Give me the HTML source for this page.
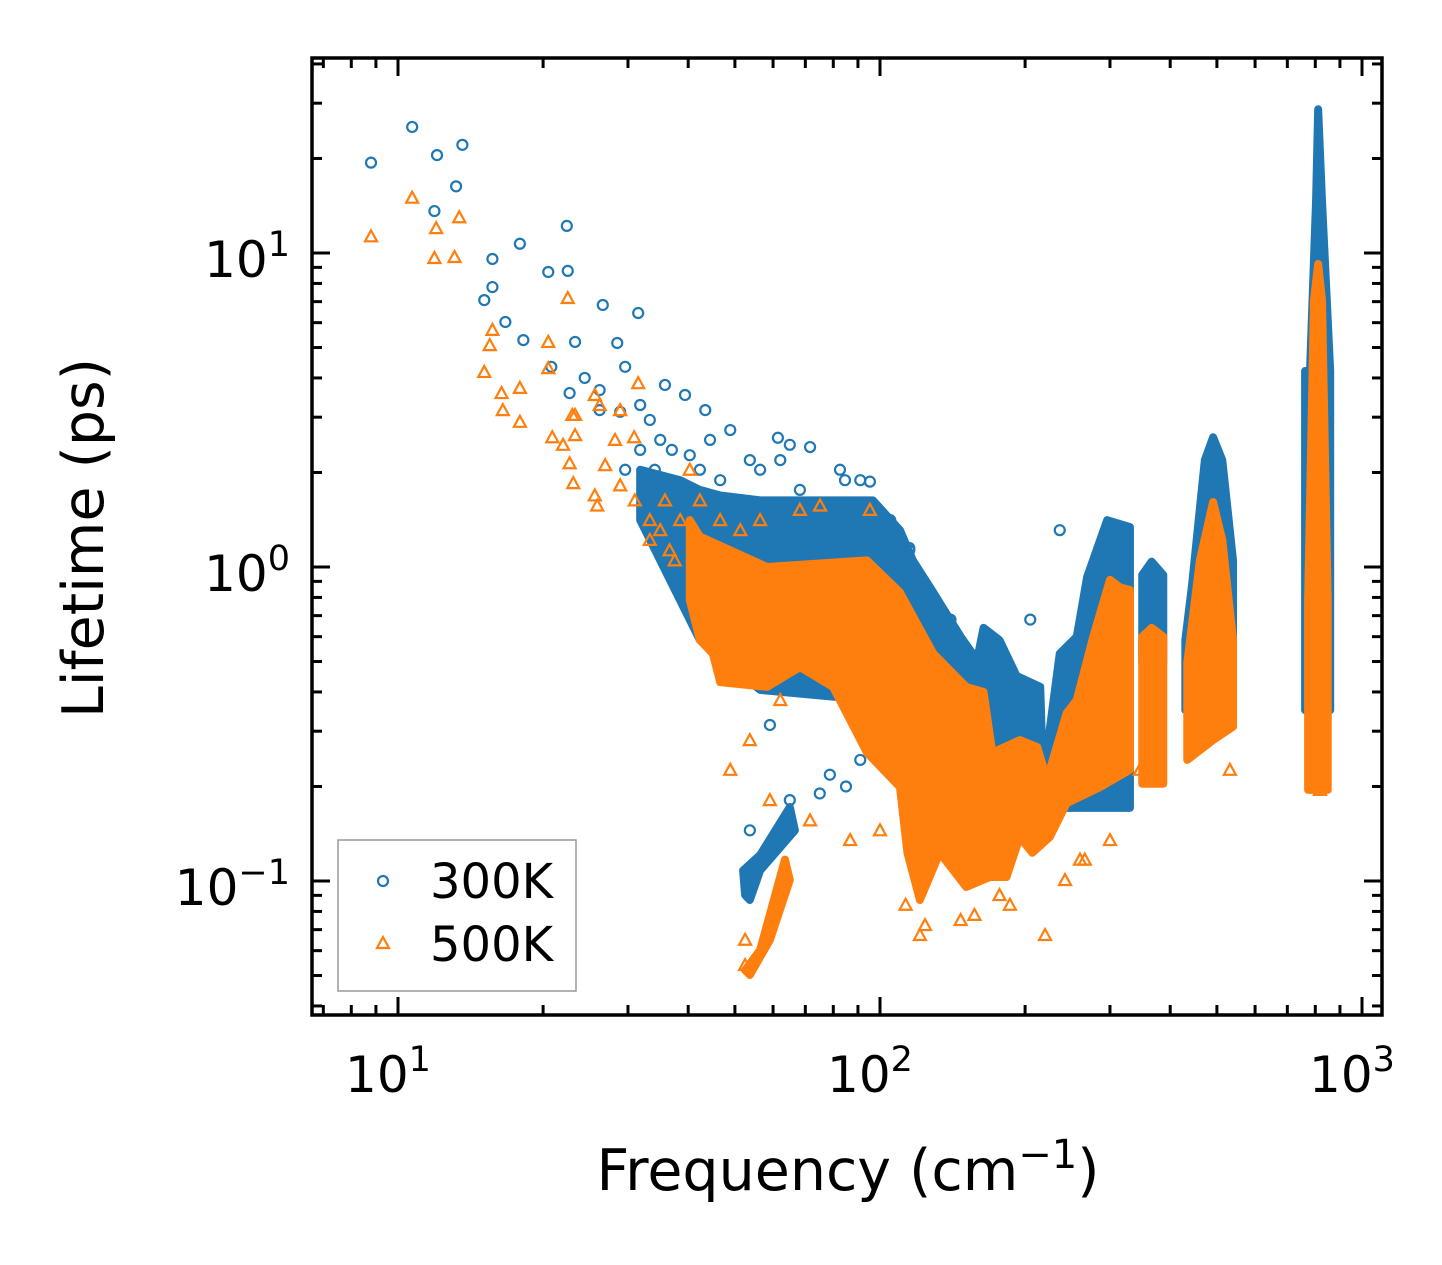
<!DOCTYPE html>
<html><head><meta charset="utf-8">
<style>
html,body{margin:0;padding:0;background:#fff;}
svg{display:block;font-family:"DejaVu Sans","Liberation Sans",sans-serif;}
</style></head>
<body>
<svg id="chart" width="1442" height="1265" viewBox="0 0 1442 1265" xmlns="http://www.w3.org/2000/svg">
<rect width="1442" height="1265" fill="#fff"/>
<defs><clipPath id="clip"><rect x="312" y="58" width="1070" height="957"/></clipPath></defs>
<g id="clouds" clip-path="url(#clip)"></g>
<g id="axes"></g>
<text x="848" y="1190" font-size="57" text-anchor="middle">Frequency (cm<tspan dy="-22" font-size="40">−1</tspan><tspan dy="22">)</tspan></text>
<text transform="translate(103,538) rotate(-90)" font-size="57" text-anchor="middle">Lifetime (ps)</text>
<g>
<rect x="338" y="840" width="238" height="151" fill="#fff" stroke="#999" stroke-width="1.5"/>
<circle cx="383" cy="881" r="5" fill="none" stroke="#1f77b4" stroke-width="2.2"/>
<text x="430" y="898" font-size="48">300K</text>
<polygon points="383,937 389,948 377,948" fill="none" stroke="#ff7f0e" stroke-width="2.2"/>
<text x="430" y="961" font-size="48">500K</text>
</g>
</svg>
<script>
// axis data
const xTickExps = [1, 2, 3];
const yTickExps = [-1, 0, 1];

// dense cloud envelopes [frequency, lifetime]
const blueClouds = [
 [[31.8,2.04],[38.5,1.89],[42.3,1.76],[46.6,1.69],[56.4,1.63],[96.7,1.63],[110,1.31],[117,1.05],[129,0.83],[147,0.60],[159,0.506],[164,0.64],[177,0.585],[192,0.45],[215,0.415],[218,0.21],[236,0.53],[256,0.60],[269,0.93],[296,1.41],[330,1.34],[330,0.171],[218,0.171],[169,0.195],[110,0.243],[95.3,0.377],[56.4,0.406],[42.3,0.585],[31.8,1.41]],
 [[350,0.944],[366,1.04],[387,0.944],[387,0.495],[350,0.495]],
 [[430,0.585],[444,0.876],[472,2.19],[491,2.59],[513,2.19],[540,1.05],[540,0.35],[430,0.35]],
 [[780,4.21],[803,14.7],[811,28.7],[826,14.7],[859,4.21],[859,0.35],[762,0.35],[762,4.21]],
 [[52.5,0.0902],[52.0,0.108],[56.4,0.121],[65.0,0.172],[66.6,0.145],[56.4,0.108],[53.7,0.087]]
];
const orangeClouds = [
 [[40.3,1.41],[42.3,1.25],[58.3,1.0],[94.0,1.05],[110,0.83],[129,0.53],[151,0.415],[164,0.40],[171,0.256],[195,0.281],[212,0.267],[222,0.21],[244,0.343],[256,0.377],[277,0.60],[300,0.91],[315,0.86],[330,0.845],[330,0.226],[286,0.199],[244,0.177],[225,0.138],[207,0.123],[195,0.138],[183,0.103],[169,0.103],[151,0.0957],[133,0.123],[121,0.087],[114,0.123],[110,0.199],[94.0,0.256],[79.9,0.415],[68.2,0.48],[58.3,0.415],[46.6,0.43],[45.0,0.53],[42.3,0.585],[40.3,0.785]],
 [[350,0.60],[366,0.64],[387,0.60],[387,0.204],[350,0.204]],
 [[434,0.495],[461,1.05],[491,1.61],[513,1.22],[540,0.585],[540,0.31],[491,0.281],[434,0.243]],
 [[773,0.785],[795,7.08],[811,9.23],[826,7.08],[849,0.785],[849,0.195],[773,0.195]],
 [[52.5,0.052],[56.4,0.0603],[63.5,0.117],[65.0,0.1007],[59.1,0.0649],[53.7,0.0502]]
];
// individual scatter points [frequency, lifetime]
const bluePoints = [[8.79,19.4],[10.7,25.2],[12.05,20.5],[13.6,22.1],[13.2,16.3],[11.9,13.6],[15.7,9.57],[17.9,10.7],[22.4,12.2],[20.5,8.7],[22.5,8.77],[15.1,7.08],[15.7,7.79],[16.7,6.03],[18.2,5.28],[20.8,4.34],[23.3,5.21],[26.6,6.83],[31.5,6.44],[28.5,5.17],[29.6,4.34],[24.4,4.0],[26.2,3.66],[22.7,3.58],[26.2,3.16],[28.9,3.12],[31.8,3.28],[35.8,3.8],[39.4,3.53],[43.4,3.16],[44.4,2.54],[48.9,2.73],[61.4,2.58],[65.0,2.45],[71.6,2.41],[62.1,2.19],[53.7,2.19],[33.3,2.94],[35.0,2.54],[37.0,2.36],[40.3,2.27],[31.8,2.36],[29.6,2.04],[34.1,2.04],[42.3,2.04],[46.6,1.89],[56.4,2.04],[68.2,1.76],[84.6,1.89],[95.3,1.87],[115,1.15],[136,0.70],[165,0.565],[279,0.94],[372,0.845],[236,1.31],[205,0.68],[169,0.243],[59.1,0.314],[53.7,0.145],[65.0,0.181],[78.7,0.218],[91,0.243],[75,0.19],[85,0.2],[82.6,2.04],[91,1.89],[105,1.41],[115,1.13],[127,0.785],[140,0.68],[150,0.544]];
const orangePoints = [[8.79,11.3],[10.7,15.0],[11.9,9.64],[13.4,13.0],[12.0,12.0],[13.1,9.71],[15.7,5.69],[15.5,5.09],[15.1,4.18],[16.4,3.58],[16.5,3.16],[17.9,3.72],[17.9,2.9],[20.5,5.21],[20.5,4.3],[22.5,7.19],[23.0,3.05],[23.3,3.05],[23.3,2.63],[20.9,2.59],[22.0,2.45],[22.7,2.14],[23.1,1.85],[25.6,3.53],[26.2,3.28],[28.9,3.16],[31.5,3.85],[30.9,2.59],[28.2,2.54],[26.9,2.11],[28.9,1.82],[25.6,1.69],[25.9,1.57],[31.0,1.63],[33.3,1.41],[35.8,1.63],[40.3,2.04],[42.3,1.63],[46.6,1.41],[51.3,1.31],[56.4,1.41],[68.2,1.52],[75.1,1.57],[95.3,1.52],[78.7,0.544],[62.1,0.377],[53.7,0.281],[48.9,0.226],[59.1,0.181],[71.6,0.156],[86.7,0.135],[100,0.145],[121,0.0673],[147,0.0751],[220,0.0673],[169,0.117],[260,0.117],[346,0.226],[532,0.226],[818,0.195],[52.5,0.054],[52.5,0.065],[33.3,1.22],[35.0,1.31],[36.6,1.13],[38.5,1.41],[37.5,1.05],[113,0.084],[124,0.0724],[157,0.078],[186,0.084],[242,0.1007],[266,0.117],[300,0.135],[177,0.0902]];

const NS = "http://www.w3.org/2000/svg";
const L = 312, R = 1382, T = 58, B = 1015;
function xs(f){ return 398 + (Math.log10(f) - 1) * 482; }
function ys(v){ return 567 - Math.log10(v) * 314; }
function mk(tag, attrs, parent){ const e = document.createElementNS(NS, tag); for (const k in attrs) e.setAttribute(k, attrs[k]); parent.appendChild(e); return e; }

const clouds = document.getElementById('clouds');
const axes = document.getElementById('axes');

function drawCloud(poly, color, name){
  const p = mk('polygon', {points: poly.map(d => xs(d[0]) + ',' + ys(d[1])).join(' '), fill: color, stroke: color, 'stroke-width': 8, 'stroke-linejoin': 'round'}, clouds);
  
  
}
function drawCircle(d){
  const c = mk('circle', {cx: xs(d[0]), cy: ys(d[1]), r: 5, fill: 'none', stroke: '#1f77b4', 'stroke-width': 2.2}, clouds);
  
  
}
function drawTri(d){
  const x = xs(d[0]), y = ys(d[1]);
  const t = mk('polygon', {points: `${x},${y-6} ${x+6},${y+5} ${x-6},${y+5}`, fill: 'none', stroke: '#ff7f0e', 'stroke-width': 2.2}, clouds);
  
  
}
blueClouds.forEach(p => drawCloud(p, '#1f77b4', 'cloud-300k'));
bluePoints.forEach(drawCircle);
orangeClouds.forEach(p => drawCloud(p, '#ff7f0e', 'cloud-500k'));
orangePoints.forEach(drawTri);

// frame
const fr = mk('rect', {x: L, y: T, width: R - L, height: B - T, fill: 'none', stroke: '#000', 'stroke-width': 3.5}, axes);



function line(x1, y1, x2, y2, name){
  const l = mk('line', {x1, y1, x2, y2, stroke: '#000', 'stroke-width': 3}, axes);
  
  
}
for (let e = 0; e <= 3; e++){
  for (let m = 1; m <= 9; m++){
    const x = xs(m * Math.pow(10, e));
    if (x < L || x > R) continue;
    const len = m === 1 ? 18 : 10;
    line(x, B, x, B - len, 'x-tick');
    line(x, T, x, T + len, 'x-tick-top');
  }
}
xTickExps.forEach(e => {
  const t = mk('text', {x: xs(Math.pow(10, e)) - 10, y: 1092, 'font-size': 50, 'text-anchor': 'middle'}, axes);
  
  
  t.innerHTML = '10<tspan dy="-21" font-size="35">' + e + '</tspan>';
});
for (let e = -2; e <= 1; e++){
  for (let m = 1; m <= 9; m++){
    const y = ys(m * Math.pow(10, e));
    if (y < T || y > B) continue;
    const len = m === 1 ? 18 : 10;
    line(L, y, L + len, y, 'y-tick');
    line(R, y, R - len, y, 'y-tick-right');
  }
}
yTickExps.forEach(e => {
  const t = mk('text', {x: 290, y: ys(Math.pow(10, e)) + 24, 'font-size': 50, 'text-anchor': 'end'}, axes);
  
  
  t.innerHTML = '10<tspan dy="-21" font-size="35">' + (e < 0 ? '−' + (-e) : e) + '</tspan>';
});
</script>
</body></html>
